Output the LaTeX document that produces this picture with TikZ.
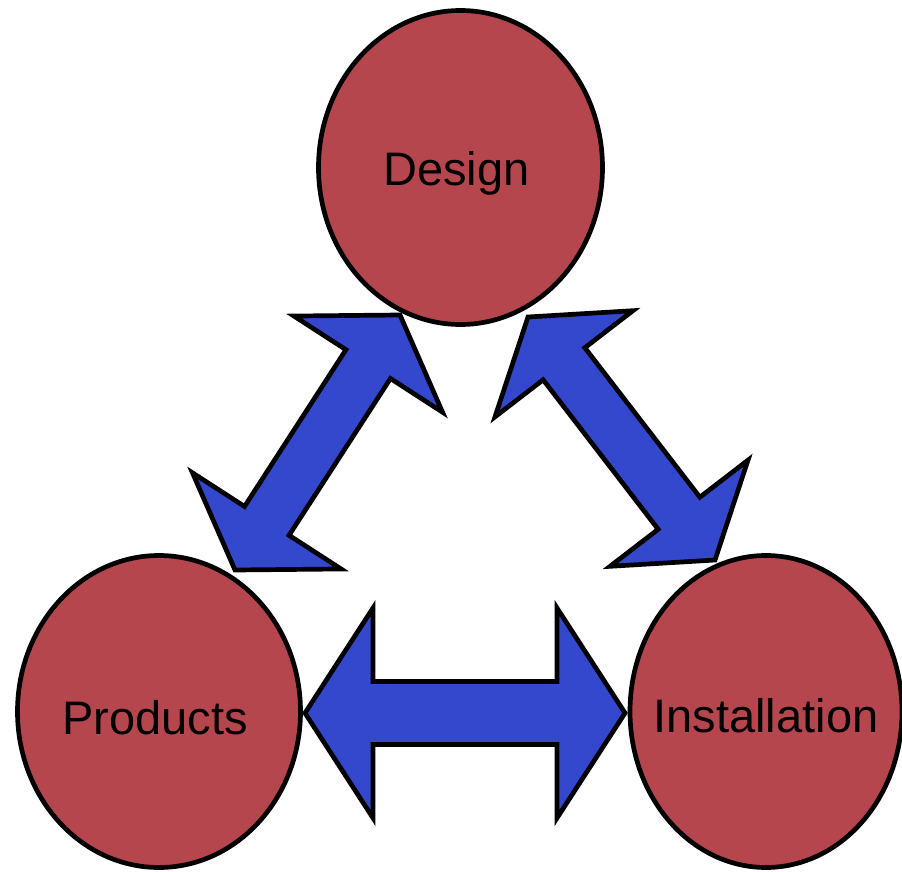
\documentclass[tikz,border=0pt]{standalone}
\usepackage{fontspec}
\setmainfont{Liberation Sans}
\usepackage{tikz}
\usetikzlibrary{positioning, shapes, calc}

\definecolor{stagered}{RGB}{181,70,78}
\definecolor{flowblue}{RGB}{51,72,204}

% two-headed block arrow: #1,#2 tips, #3 head length, #4 head half width, #5 shaft half width
\newcommand{\twowayarrow}[5]{%
  \draw[flowarrow] (#1)
    -- ($(#1)!#3!(#2)!#4!90:(#2)$)
    -- ($(#1)!#3!(#2)!#5!90:(#2)$)
    -- ($(#2)!#3!(#1)!#5!-90:(#1)$)
    -- ($(#2)!#3!(#1)!#4!-90:(#1)$)
    -- (#2)
    -- ($(#2)!#3!(#1)!#4!90:(#1)$)
    -- ($(#2)!#3!(#1)!#5!90:(#1)$)
    -- ($(#1)!#3!(#2)!#5!-90:(#2)$)
    -- ($(#1)!#3!(#2)!#4!-90:(#2)$)
    -- cycle;}

\begin{document}
\begin{tikzpicture}[x=1pt, y=-1pt,
    stage/.style={draw, ellipse, line width=4.7pt, fill=stagered, inner sep=0pt},
    stagetext/.style={font=\fontsize{47}{56}\selectfont, text height=42pt, text depth=0pt},
    flowarrow/.style={draw, line width=4.7pt, line join=miter, fill=flowblue}]
  \useasboundingbox (0,0) rectangle (902,872);

  \node[stage, minimum width=284pt, minimum height=314pt,
        label={[stagetext, xshift=-4pt, yshift=3.5pt]center:Design}] (design) at (460.5,167.5) {};
  \node[stage, minimum width=283pt, minimum height=312pt,
        label={[stagetext, xshift=-4pt, yshift=-1.5pt]center:Products}] (products) at (159,711.5) {};
  \node[stage, minimum width=272pt, minimum height=312pt,
        label={[stagetext]center:Installation}] (installation) at (766,711.5) {};

  % arrow tips next to the circles
  \coordinate (pd) at (235,570);
  \coordinate (dp) at (400,315);
  \coordinate (di) at (528,317);
  \coordinate (id) at (715,560);
  \coordinate (pi) at (305,713);
  \coordinate (ip) at (625,713);

  \twowayarrow{pd}{dp}{58.5pt}{88.5pt}{26.5pt}
  \twowayarrow{di}{id}{59pt}{87pt}{26.3pt}
  \twowayarrow{pi}{ip}{68pt}{105pt}{31.5pt}
\end{tikzpicture}
\end{document}
